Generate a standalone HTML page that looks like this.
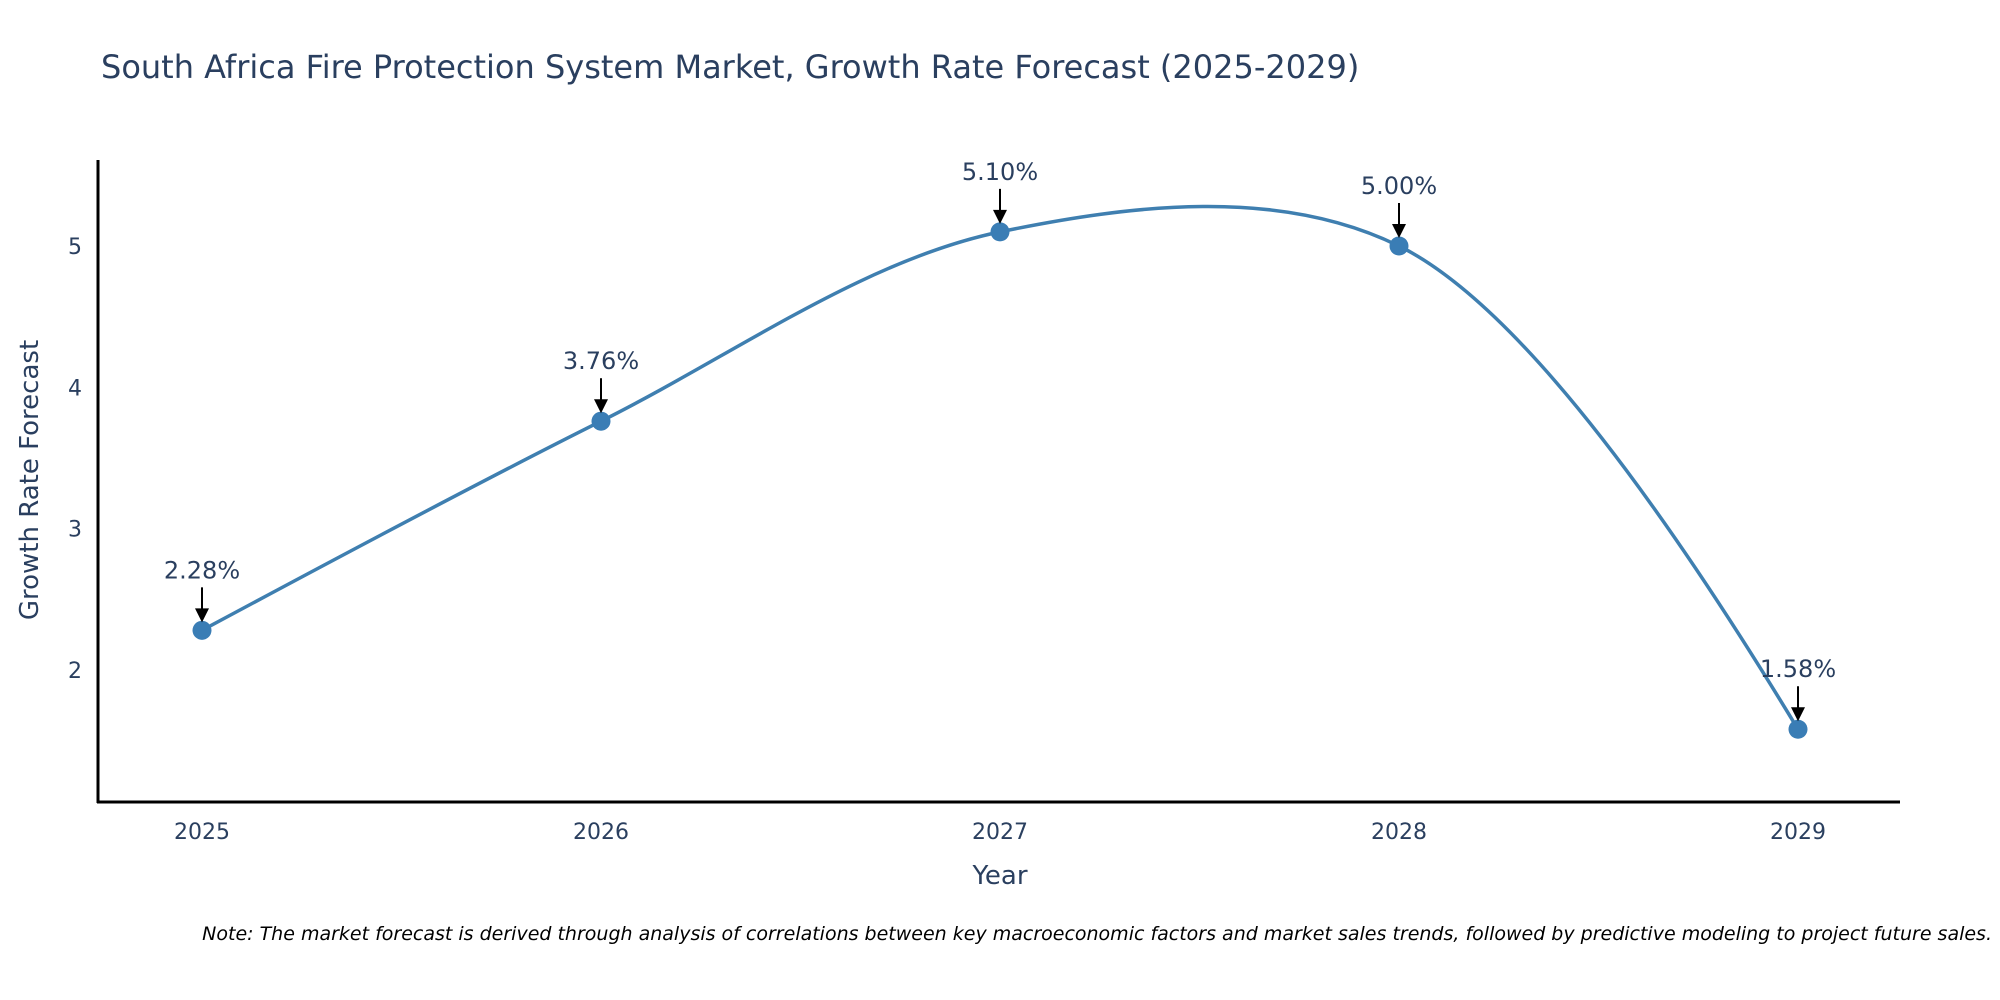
<!DOCTYPE html>
<html><head><meta charset="utf-8"><style>
body{margin:0;background:#fff;}
svg{display:block;font-family:"DejaVu Sans","Liberation Sans",sans-serif;}
</style></head><body>
<svg id="chart" width="2000" height="1000" viewBox="0 0 2000 1000">
<text x="101" y="78" font-size="32" fill="#2a3f5f">South Africa Fire Protection System Market, Growth Rate Forecast (2025-2029)</text>
<g id="plot"></g>
<line x1="98" y1="160" x2="98" y2="803" stroke="#000" stroke-width="3"/>
<line x1="97" y1="802" x2="1900" y2="802" stroke="#000" stroke-width="3"/>
<text x="0" y="0" transform="translate(38,480) rotate(-90)" text-anchor="middle" font-size="26" fill="#2a3f5f">Growth Rate Forecast</text>
<text x="1000" y="884" text-anchor="middle" font-size="26" fill="#2a3f5f">Year</text>
<text x="1992" y="940" text-anchor="end" font-size="19" font-style="italic" fill="#000">Note: The market forecast is derived through analysis of correlations between key macroeconomic factors and market sales trends, followed by predictive modeling to project future sales.</text>
</svg>
<script>
const years = ["2025","2026","2027","2028","2029"];
const growth = [2.28, 3.76, 5.10, 5.00, 1.58];
const labels = ["2.28%","3.76%","5.10%","5.00%","1.58%"];
const yTicks = [2,3,4,5];

const NS="http://www.w3.org/2000/svg";
const g=document.getElementById('plot');
function xs(i){return 202+i*399;}
function ys(v){return 246-(v-5)*141.3;}
function mk(tag,attrs){const e=document.createElementNS(NS,tag);for(const k in attrs)e.setAttribute(k,attrs[k]);return e;}

yTicks.forEach(t=>{
  const e=mk('text',{x:82,y:ys(t)+8,'text-anchor':'end','font-size':22,fill:'#2a3f5f'});
  
  
  e.textContent=t;g.appendChild(e);
});
years.forEach((y,i)=>{
  const e=mk('text',{x:xs(i),y:839,'text-anchor':'middle','font-size':22,fill:'#2a3f5f'});
  
  
  e.textContent=y;g.appendChild(e);
});

const pts=growth.map((v,i)=>[xs(i),ys(v)]);
function tangent(p,t,n,s){
  const d1x=p[0]-t[0],d1y=p[1]-t[1],d2x=n[0]-t[0],d2y=n[1]-t[1];
  const d1a=Math.pow(d1x*d1x+d1y*d1y,0.25),d2a=Math.pow(d2x*d2x+d2y*d2y,0.25);
  const nx=(d2a*d2a*d1x-d1a*d1a*d2x)*s,ny=(d2a*d2a*d1y-d1a*d1a*d2y)*s;
  const den1=3*d2a*(d1a+d2a),den2=3*d1a*(d1a+d2a);
  return [[t[0]+nx/den1,t[1]+ny/den1],[t[0]-nx/den2,t[1]-ny/den2]];
}
const tg=[];
for(let i=1;i<pts.length-1;i++)tg.push(tangent(pts[i-1],pts[i],pts[i+1],1));
let d='M'+pts[0]+'Q'+tg[0][0]+' '+pts[1];
for(let i=2;i<pts.length-1;i++)d+='C'+tg[i-2][1]+' '+tg[i-1][0]+' '+pts[i];
d+='Q'+tg[tg.length-1][1]+' '+pts[pts.length-1];
const line=mk('path',{d:d,fill:'none',stroke:'#3f7fb0','stroke-width':3.5});


g.appendChild(line);

pts.forEach((p,i)=>{
  const c=mk('circle',{cx:p[0],cy:p[1],r:9.5,fill:'#3a7db5'});
  
  
  g.appendChild(c);
  const a=mk('line',{x1:p[0],y1:p[1]-43,x2:p[0],y2:p[1]-20,stroke:'#000','stroke-width':2});
  
  
  g.appendChild(a);
  const h=mk('path',{d:'M'+(p[0]-7)+','+(p[1]-22)+' L'+(p[0]+7)+','+(p[1]-22)+' L'+p[0]+','+(p[1]-8)+' Z',fill:'#000'});
  
  
  g.appendChild(h);
  const t=mk('text',{x:p[0],y:p[1]-52,'text-anchor':'middle','font-size':24,fill:'#2a3f5f'});
  
  
  t.textContent=labels[i];g.appendChild(t);
});
</script>
</body></html>
